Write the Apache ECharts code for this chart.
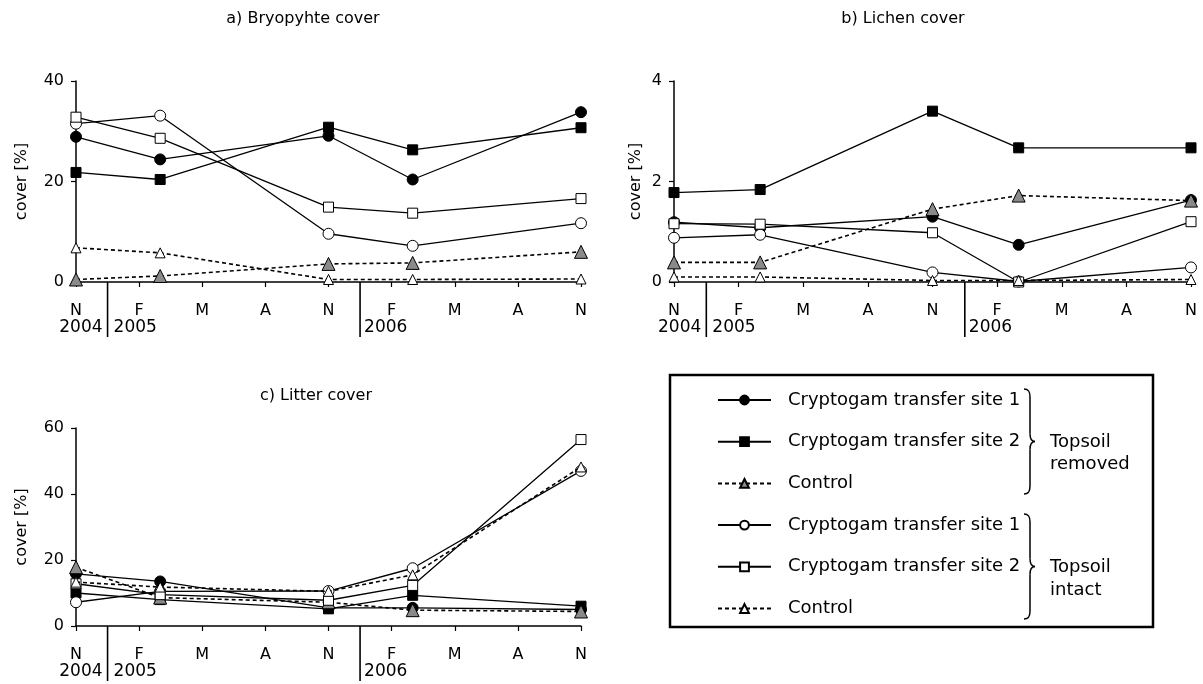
<!DOCTYPE html>
<html>
<head>
<meta charset="utf-8">
<script src="https://cdn.jsdelivr.net/npm/echarts@6/dist/echarts.min.js"></script>
<style>
  html, body { margin: 0; padding: 0; background: #fff; }
  #chart { width: 1203px; height: 684px; }
</style>
</head>
<body>
<div id="chart"></div>
<script>
// Sampling dates, counted in months after November 2004
const sampleMonths = [0, 4, 12, 16, 24];
// Quarterly tick labels along the time axis (Nov, Feb, May, Aug, ...)
const monthTicks = ['N', 'F', 'M', 'A', 'N', 'F', 'M', 'A', 'N'];
// Year captions and the month positions of the year boundaries
const yearLabels = ['2004', '2005', '2006'];
const yearBreaks = [1.5, 13.5];

// Treatment names (topsoil removed first, then topsoil intact)
const treatmentNames = [
  'Cryptogam transfer site 1 (topsoil removed)',
  'Cryptogam transfer site 2 (topsoil removed)',
  'Control (topsoil removed)',
  'Cryptogam transfer site 1 (topsoil intact)',
  'Cryptogam transfer site 2 (topsoil intact)',
  'Control (topsoil intact)'
];

// a) Bryophyte cover [%]
const bryoRemovedSite1   = [28.9, 24.4, 29.1, 20.4, 33.8];
const bryoRemovedSite2   = [21.8, 20.4, 30.8, 26.3, 30.7];
const bryoRemovedControl = [0.5, 1.2, 3.6, 3.8, 6.0];
const bryoIntactSite1    = [31.5, 33.1, 9.6, 7.2, 11.7];
const bryoIntactSite2    = [32.8, 28.6, 14.9, 13.7, 16.6];
const bryoIntactControl  = [6.8, 5.8, 0.5, 0.5, 0.6];

// b) Lichen cover [%]
const lichenRemovedSite1   = [1.19, 1.08, 1.30, 0.74, 1.63];
const lichenRemovedSite2   = [1.78, 1.84, 3.40, 2.67, 2.67];
const lichenRemovedControl = [0.39, 0.39, 1.45, 1.72, 1.62];
const lichenIntactSite1    = [0.88, 0.94, 0.19, 0.01, 0.29];
const lichenIntactSite2    = [1.16, 1.15, 0.98, 0.0, 1.20];
const lichenIntactControl  = [0.10, 0.10, 0.03, 0.03, 0.05];

// c) Litter cover [%]
const litterRemovedSite1   = [15.8, 13.5, 5.5, 5.5, 5.0];
const litterRemovedSite2   = [10.0, 8.0, 5.2, 9.3, 6.0];
const litterRemovedControl = [17.8, 8.6, 7.2, 4.8, 4.4];
const litterIntactSite1    = [7.2, 10.5, 10.6, 17.5, 47.0];
const litterIntactSite2    = [12.8, 9.5, 7.8, 12.3, 56.5];
const litterIntactControl  = [13.3, 11.8, 10.5, 15.5, 48.2];

// Panel captions and value-axis ranges
const panelTitles = ['a) Bryopyhte cover', 'b) Lichen cover', 'c) Litter cover'];
const axisMax = [40, 4, 60];
const axisStep = [20, 2, 20];

const panelValues = [
  [bryoRemovedSite1, bryoRemovedSite2, bryoRemovedControl, bryoIntactSite1, bryoIntactSite2, bryoIntactControl],
  [lichenRemovedSite1, lichenRemovedSite2, lichenRemovedControl, lichenIntactSite1, lichenIntactSite2, lichenIntactControl],
  [litterRemovedSite1, litterRemovedSite2, litterRemovedControl, litterIntactSite1, litterIntactSite2, litterIntactControl]
];

const FONT = '"DejaVu Sans", Verdana, sans-serif';

// Marker / line look of each treatment
const looks = [
  { symbol: 'circle',   size: 11, fill: '#000',    dashed: false },
  { symbol: 'rect',     size: 10, fill: '#000',    dashed: false },
  { symbol: 'triangle', size: 13, fill: '#8a8a8a', dashed: true },
  { symbol: 'circle',   size: 11, fill: '#fff',    dashed: false },
  { symbol: 'rect',     size: 10, fill: '#fff',    dashed: false },
  { symbol: 'triangle', size: 10, fill: '#fff',    dashed: true }
];

const grids = [
  { left: 76,  top: 81,  width: 505, height: 201 },
  { left: 674, top: 81,  width: 517, height: 201 },
  { left: 76,  top: 428, width: 505, height: 198 }
];
const nameGaps = [46, 30, 46];

const xAxes = grids.map((g, p) => ({
  type: 'value', gridIndex: p, min: 0, max: 24, interval: 3,
  axisLine: { show: true, lineStyle: { color: '#000', width: 1.5 } },
  axisTick: { show: true, length: 5, lineStyle: { color: '#000', width: 1.2 } },
  splitLine: { show: false },
  axisLabel: {
    formatter: v => monthTicks[Math.round(v / 3)],
    color: '#000', fontSize: 16, fontFamily: FONT, margin: 21
  }
}));

const yAxes = grids.map((g, p) => ({
  type: 'value', gridIndex: p, min: 0, max: axisMax[p], interval: axisStep[p],
  axisLine: { show: true, lineStyle: { color: '#000', width: 1.5 } },
  axisTick: { show: true, length: 5, lineStyle: { color: '#000', width: 1.2 } },
  splitLine: { show: false },
  axisLabel: { color: '#000', fontSize: 16, fontFamily: FONT, margin: 12 },
  name: 'cover [%]', nameLocation: 'middle', nameRotate: 90, nameGap: nameGaps[p],
  nameTextStyle: { color: '#000', fontSize: 16, fontFamily: FONT }
}));

const series = [];
panelValues.forEach((group, p) => {
  group.forEach((vals, k) => {
    const lk = looks[k];
    series.push({
      type: 'line', name: treatmentNames[k], xAxisIndex: p, yAxisIndex: p,
      data: sampleMonths.map((m, i) => [m, vals[i]]),
      symbol: lk.symbol, symbolSize: lk.size, showSymbol: true,
      lineStyle: { color: '#000', width: lk.dashed ? 1.6 : 1.3, type: lk.dashed ? [4, 3] : 'solid' },
      itemStyle: { color: lk.fill, borderColor: '#000', borderWidth: 1 },
      emphasis: { disabled: true },
      z: 3 + k
    });
  });
});

const titleCenters = [[303, 11], [903, 11], [316, 388]];

const option = {
  animation: false,
  backgroundColor: '#fff',
  title: panelTitles.map((t, i) => ({
    text: t, left: titleCenters[i][0], top: titleCenters[i][1], textAlign: 'center', padding: 0,
    textStyle: { fontSize: 16, fontWeight: 'normal', color: '#000', fontFamily: FONT }
  })),
  grid: grids,
  xAxis: xAxes,
  yAxis: yAxes,
  legend: {
    orient: 'vertical', left: 717, top: 390, padding: 0,
    itemWidth: 53, itemHeight: 11, itemGap: 21.7,
    selectedMode: false,
    data: treatmentNames,
    formatter: name => name.replace(/ \(.*\)$/, ''),
    textStyle: { fontSize: 18, color: '#000', fontFamily: FONT, lineHeight: 20, padding: [0, 0, 0, 12] }
  },
  series: series
};

const chart = echarts.init(document.getElementById('chart'), null, { renderer: 'canvas' });
chart.setOption(option);

// Curly brace built from bezier segments
function brace(xL, yTop, yBot) {
  const xs = xL + 6, xt = xL + 11, ym = (yTop + yBot) / 2, r = 8;
  const st = { stroke: '#000', lineWidth: 1.5, fill: null };
  return [
    { type: 'bezierCurve', shape: { x1: xL, y1: yTop, cpx1: xL + 5, cpy1: yTop, cpx2: xs, cpy2: yTop + 3, x2: xs, y2: yTop + r }, style: st },
    { type: 'line', shape: { x1: xs, y1: yTop + r, x2: xs, y2: ym - r }, style: st },
    { type: 'bezierCurve', shape: { x1: xs, y1: ym - r, cpx1: xs, cpy1: ym - 3, cpx2: xs + 2, cpy2: ym, x2: xt, y2: ym }, style: st },
    { type: 'bezierCurve', shape: { x1: xt, y1: ym, cpx1: xs + 2, cpy1: ym, cpx2: xs, cpy2: ym + 3, x2: xs, y2: ym + r }, style: st },
    { type: 'line', shape: { x1: xs, y1: ym + r, x2: xs, y2: yBot - r }, style: st },
    { type: 'bezierCurve', shape: { x1: xs, y1: yBot - r, cpx1: xs, cpy1: yBot - 3, cpx2: xL + 5, cpy2: yBot, x2: xL, y2: yBot }, style: st }
  ];
}

function caption(text, x, y, align, size) {
  return {
    type: 'text', x: x, y: y,
    style: { text: text, fill: '#000', fontSize: size, fontFamily: FONT, align: align, verticalAlign: 'middle' }
  };
}

const elements = [];

// Year boundaries and year captions under each time axis
for (let p = 0; p < 3; p++) {
  const y0 = chart.convertToPixel({ yAxisIndex: p }, 0);
  const b1 = chart.convertToPixel({ xAxisIndex: p }, yearBreaks[0]);
  const b2 = chart.convertToPixel({ xAxisIndex: p }, yearBreaks[1]);
  [b1, b2].forEach(bx => {
    elements.push({ type: 'line', shape: { x1: bx, y1: y0, x2: bx, y2: y0 + 55 }, style: { stroke: '#000', lineWidth: 1.6 } });
  });
  elements.push(caption(yearLabels[0], b1 - 5, y0 + 46, 'right', 17));
  elements.push(caption(yearLabels[1], b1 + 6, y0 + 46, 'left', 17));
  elements.push(caption(yearLabels[2], b2 + 4, y0 + 46, 'left', 17));
}

// Legend frame, grouping braces and group captions
elements.push({ type: 'rect', shape: { x: 670, y: 375, width: 483, height: 252 }, style: { fill: null, stroke: '#000', lineWidth: 2.5 }, z: -1 });
elements.push(...brace(1024, 389, 494));
elements.push(...brace(1024, 514, 619));
elements.push(caption('Topsoil', 1050, 442, 'left', 18));
elements.push(caption('removed', 1050, 464, 'left', 18));
elements.push(caption('Topsoil', 1050, 567, 'left', 18));
elements.push(caption('intact', 1050, 590, 'left', 18));

chart.setOption({ graphic: { elements: elements } });
</script>
</body>
</html>
